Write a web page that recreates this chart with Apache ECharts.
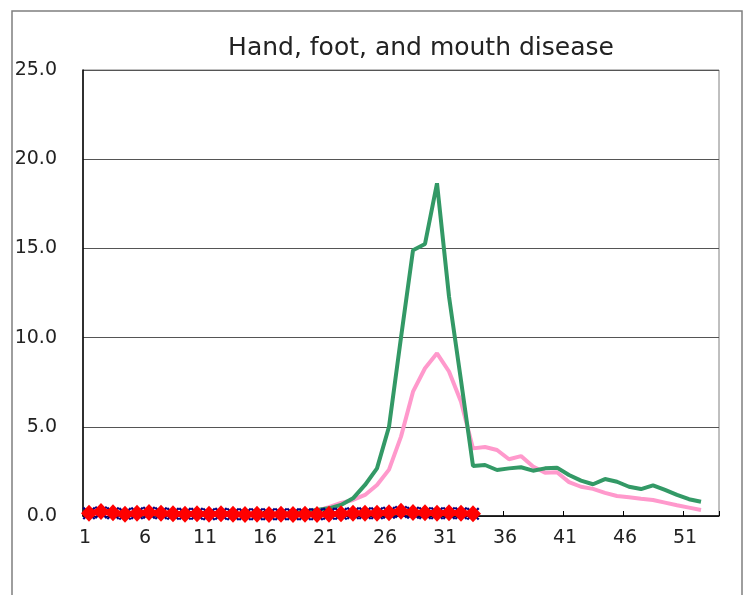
<!DOCTYPE html>
<html>
<head>
<meta charset="utf-8">
<script src="https://cdn.jsdelivr.net/npm/echarts@6/dist/echarts.min.js"></script>
<style>html,body{margin:0;padding:0;background:#fff;}#c{width:752px;height:595px;}</style>
</head>
<body>
<div id="c"></div>
<script>
var weeks = [];
for (var i = 1; i <= 53; i++) weeks.push(String(i));

var greenValues = [0.15,0.18,0.15,0.12,0.15,0.15,0.12,0.12,0.1,0.12,0.1,0.1,0.1,0.1,0.1,0.1,0.12,0.15,0.25,0.34,
  0.43,0.62,0.99,1.74,2.67,5.0,10.0,14.9,15.25,18.65,12.3,7.6,2.8,2.86,2.58,2.67,2.73,2.54,2.67,2.71,
  2.3,1.98,1.78,2.07,1.92,1.64,1.51,1.72,1.46,1.18,0.94,0.80,null];
var pinkValues = [0.1,0.12,0.1,0.1,0.1,0.1,0.1,0.1,0.08,0.08,0.08,0.08,0.08,0.08,0.08,0.08,0.1,0.12,0.2,0.3,
  0.5,0.73,0.9,1.18,1.74,2.6,4.45,6.97,8.28,9.12,8.1,6.4,3.79,3.87,3.7,3.18,3.36,2.77,2.43,2.45,
  1.9,1.64,1.52,1.3,1.12,1.05,0.97,0.9,0.75,0.6,0.47,0.34,null];
var blueValues = [0.15,0.2,0.15,0.12,0.15,0.18,0.15,0.12,0.12,0.12,0.1,0.12,0.1,0.1,0.1,0.1,0.1,0.1,0.1,0.1,
  0.12,0.12,0.15,0.15,0.15,0.18,0.22,0.18,0.16,0.15,0.16,0.15,0.12];
var redValues = [0.15,0.25,0.18,0.1,0.15,0.2,0.15,0.12,0.1,0.12,0.1,0.12,0.1,0.08,0.1,0.08,0.1,0.08,0.1,0.08,
  0.1,0.12,0.15,0.15,0.15,0.18,0.27,0.2,0.18,0.15,0.18,0.15,0.12];
var yTicks = [0, 5, 10, 15, 20, 25];

var FONT = 'DejaVu Sans';
var xShape = 'path://M0,1.2L1.2,0L5,3.8L8.8,0L10,1.2L6.2,5L10,8.8L8.8,10L5,6.2L1.2,10L0,8.8L3.8,5Z';

var chart = echarts.init(document.getElementById('c'), null, {renderer: 'canvas'});
chart.setOption({
  animation: false,
  backgroundColor: '#fff',
  title: {
    text: 'Hand, foot, and mouth disease',
    left: 416, top: 31, textAlign: 'center',
    textStyle: {fontFamily: FONT, fontSize: 25, fontWeight: 'normal', color: '#222'}
  },
  graphic: [{
    type: 'rect', silent: true,
    shape: {x: 12, y: 11, width: 730, height: 600},
    style: {fill: 'none', stroke: '#7f7f7f', lineWidth: 1.5}
  }],
  grid: {left: 83, top: 70, right: 33, bottom: 79, show: true, borderColor: '#808080', borderWidth: 1, backgroundColor: 'transparent'},
  xAxis: {
    type: 'category', data: weeks, boundaryGap: true,
    axisLine: {lineStyle: {color: '#000', width: 1.5}},
    axisTick: {show: true, inside: true, length: 5, interval: 4, lineStyle: {color: '#000'}},
    axisLabel: {interval: 4, margin: 13, fontFamily: FONT, fontSize: 19, color: '#222', padding: [0, 8, 0, 0]},
    splitLine: {show: false}
  },
  yAxis: {
    type: 'value', min: yTicks[0], max: yTicks[yTicks.length - 1], interval: 5,
    axisLine: {show: true, lineStyle: {color: '#000', width: 1.5}},
    axisTick: {show: false},
    axisLabel: {margin: 26, fontFamily: FONT, fontSize: 19, color: '#222', formatter: function (v) { return v.toFixed(1); }},
    splitLine: {lineStyle: {color: '#555', width: 1}}
  },
  series: [
    {name: 'pink', type: 'line', data: pinkValues, symbol: 'none', lineStyle: {color: '#ff99cc', width: 4}, z: 2},
    {name: 'green', type: 'line', data: greenValues, symbol: 'none', lineStyle: {color: '#339966', width: 4}, z: 3},
    {name: 'blue', type: 'line', data: blueValues, symbol: xShape, symbolSize: 13, showAllSymbol: true,
      lineStyle: {color: '#000080', width: 1.5}, itemStyle: {color: '#000080'}, z: 4},
    {name: 'red', type: 'line', data: redValues, symbol: 'diamond', symbolSize: [16, 17], showAllSymbol: true,
      lineStyle: {color: '#ff0000', width: 6}, itemStyle: {color: '#ff0000'}, z: 5}
  ]
});
</script>
</body>
</html>
